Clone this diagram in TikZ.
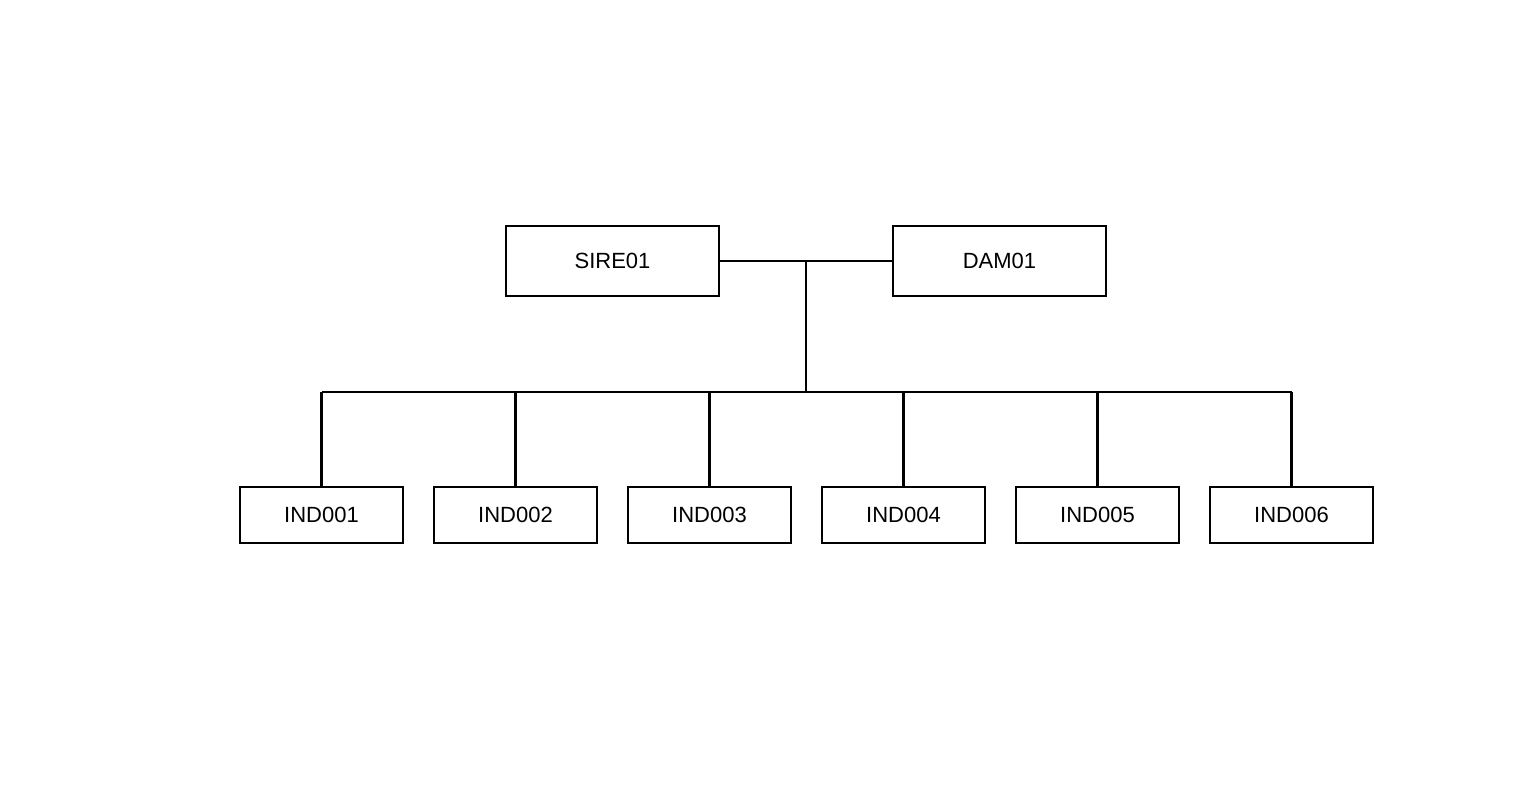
\documentclass[tikz,border=0pt]{standalone}
\usepackage{fontspec}
\setmainfont{Liberation Sans}
\begin{document}
\begin{tikzpicture}[x=1pt,y=-1pt,
  box/.style={draw,line width=1.5pt,inner sep=0pt,font=\fontsize{22}{26}\selectfont},
  par/.style={box,minimum width=213pt,minimum height=70pt},
  kid/.style={box,minimum width=163pt,minimum height=56pt},
  link/.style={line width=2.2pt}]
\useasboundingbox (0,0) rectangle (1536,806);
\node[par] (s) at (612.5,261) {SIRE01};
\node[par] (d) at (999.5,261) {DAM01};
\coordinate (m) at (806,261);
\coordinate (b) at (806,392);
\foreach \i/\x in {1/321.5,2/515.5,3/709.5,4/903.5,5/1097.5,6/1291.5}
  \node[kid] (c\i) at (\x,515) {IND00\i};
\draw[link] (s.east) -- (d.west);
\draw[link] (m) -- (b);
\draw[link] (b -| c1) -- (b -| c6);
\foreach \i in {1,...,6} \draw[link] (b -| c\i) -- (c\i.north);
\end{tikzpicture}
\end{document}
